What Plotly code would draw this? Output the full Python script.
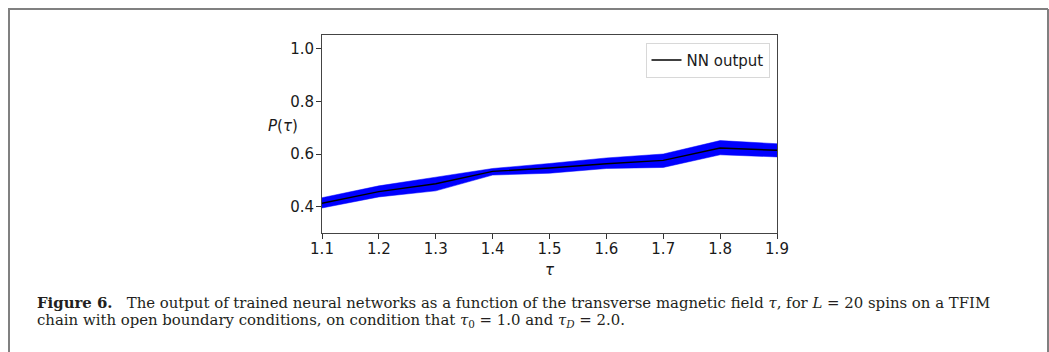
import plotly.graph_objects as go

tau = [1.1, 1.2, 1.3, 1.4, 1.5, 1.6, 1.7, 1.8, 1.9]
nn_output = [0.413, 0.457, 0.487, 0.534, 0.547, 0.563, 0.576, 0.623, 0.614]
band_upper = [0.434, 0.479, 0.512, 0.545, 0.564, 0.585, 0.600, 0.651, 0.639]
band_lower = [0.395, 0.437, 0.460, 0.520, 0.527, 0.545, 0.549, 0.597, 0.589]
x_ticks = [1.1, 1.2, 1.3, 1.4, 1.5, 1.6, 1.7, 1.8, 1.9]
y_ticks = [0.4, 0.6, 0.8, 1.0]

W, H = 1049, 352
L, R, T, B = 322, 777, 35, 233.3
pw, ph = R - L, B - T


def px(x):
    return (x - L) / pw


def py(y):
    return (B - y) / ph


fig = go.Figure()
fig.add_trace(go.Scatter(x=tau, y=band_lower, mode="lines", line=dict(color="#0000ff", width=0.5),
                         showlegend=False, hoverinfo="skip"))
fig.add_trace(go.Scatter(x=tau, y=band_upper, mode="lines", line=dict(color="#0000ff", width=0.5),
                         fill="tonexty", fillcolor="#0000ff", showlegend=False, hoverinfo="skip"))
fig.add_trace(go.Scatter(x=tau, y=nn_output, mode="lines", line=dict(color="black", width=1.4),
                         name="NN output"))

tick_font = dict(family="DejaVu Sans", size=15, color="#1a1a1a")
axis_common = dict(showgrid=False, zeroline=False, showline=True, linecolor="#444", linewidth=1,
                   mirror=True, ticks="outside", ticklen=5, tickcolor="#333", tickwidth=1,
                   tickfont=tick_font)

fig.update_layout(
    width=W, height=H,
    margin=dict(l=L, r=W - R, t=T, b=H - B, pad=0),
    paper_bgcolor="white", plot_bgcolor="white",
    xaxis=dict(range=[1.1, 1.9], tickvals=x_ticks, ticktext=[f"{v:.1f}" for v in x_ticks],
               ticklabelstandoff=-3, **axis_common),
    yaxis=dict(range=[0.3, 1.052], tickvals=y_ticks, ticktext=[f"{v:.1f}" for v in y_ticks],
               ticklabelstandoff=-1, **axis_common),
    legend=dict(x=px(769.5), y=py(42.7), xanchor="right", yanchor="top", bgcolor="white",
                bordercolor="#d8d8d8", borderwidth=1,
                font=tick_font, itemwidth=30, tracegroupgap=0),
    showlegend=True,
)

# outer frame
frame = dict(type="line", xref="paper", yref="paper", line=dict(color="#808080", width=2))
fig.add_shape(x0=px(9), x1=px(9), y0=py(9), y1=py(400), **frame)
fig.add_shape(x0=px(8), x1=px(1048), y0=py(9), y1=py(9), **frame)
fig.add_shape(x0=px(1048), x1=px(1048), y0=py(9), y1=py(400), **frame)

# axis labels
fig.add_annotation(text="<i>P</i>(<i>τ</i>)", x=px(283), y=py(126), xref="paper", yref="paper",
                   showarrow=False, xanchor="center", yanchor="middle", font=tick_font)
fig.add_annotation(text="<i>τ</i>", x=0.5, y=py(270), xref="paper", yref="paper",
                   showarrow=False, xanchor="center", yanchor="middle", font=tick_font)

cap_font = dict(family="DejaVu Serif", size=14.9, color="#231f20")
line1 = ("<b>Figure 6.</b>&nbsp;&nbsp; The output of trained neural networks as a function of the transverse "
         "magnetic field <i>τ</i>, for <i>L</i> = 20 spins on a TFIM")
line2 = ("chain with open boundary conditions, on condition that <i>τ</i><sub>0</sub> = 1.0 and "
         "<i>τ</i><sub><i>D</i></sub> = 2.0.")
fig.add_annotation(text=line1, x=px(35), y=py(303), xref="paper", yref="paper", showarrow=False,
                   xanchor="left", yanchor="middle", font=cap_font)
fig.add_annotation(text=line2, x=px(35), y=py(320.5), xref="paper", yref="paper", showarrow=False,
                   xanchor="left", yanchor="middle", font=cap_font)

fig.write_html("out.html")
